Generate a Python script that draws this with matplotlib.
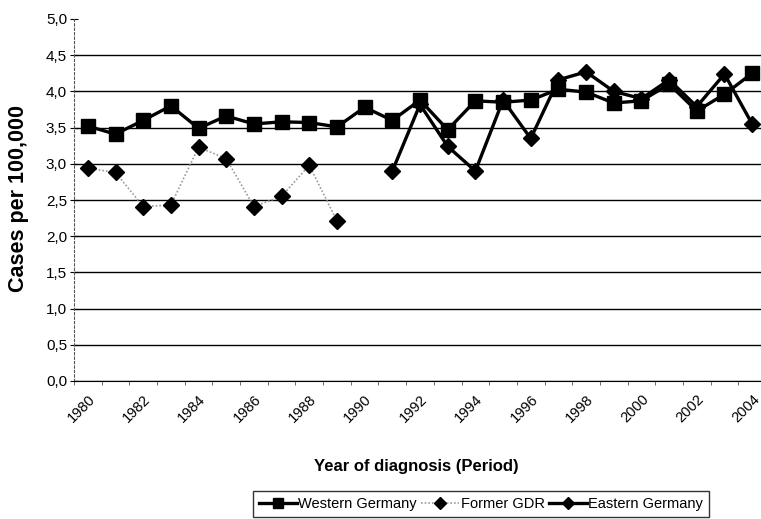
import numpy as np
import matplotlib
matplotlib.use("Agg")
import matplotlib.pyplot as plt
import matplotlib.transforms as mtransforms
from matplotlib.ticker import FixedLocator, FuncFormatter

plt.rcParams['font.family'] = ['Liberation Sans', 'DejaVu Sans']

years = list(range(1980, 2005))
western = [3.52, 3.41, 3.60, 3.80, 3.49, 3.66, 3.55, 3.58, 3.57, 3.51,
           3.78, 3.60, 3.88, 3.47, 3.87, 3.85, 3.88, 4.03, 3.99, 3.84,
           3.87, 4.10, 3.73, 3.96, 4.25]
former_gdr = [2.94, 2.88, 2.41, 2.43, 3.23, 3.07, 2.41, 2.55, 2.98, 2.21,
              None, None, None, None, None, None, None, None, None, None,
              None, None, None, None, None]
eastern = [None, None, None, None, None, None, None, None, None, None,
           None, 2.90, 3.82, 3.24, 2.90, 3.88, 3.35, 4.16, 4.27, 4.00,
           3.90, 4.16, 3.79, 4.24, 3.55]
year_labels = [str(y) for y in range(1980, 2005, 2)]


def arr(vals):
    return np.array([np.nan if v is None else v for v in vals], dtype=float)


W, H = 761, 519
fig = plt.figure(figsize=(W / 100, H / 100), dpi=100)
ax = fig.add_axes([74 / W, (H - 381) / H, (766 - 74) / W, 362 / H])

x = np.arange(len(years))
ax.plot(x, arr(western), color='black', lw=2.4, marker='s', ms=9.5,
        label='Western Germany', zorder=3)
ax.plot(x, arr(former_gdr), color='#9a9a9a', lw=1.2, ls=(0, (1, 1.2)),
        marker='D', ms=8.5, mfc='black', mec='black', label='Former GDR', zorder=3)
ax.plot(x, arr(eastern), color='black', lw=2.4, marker='D', ms=8.5,
        label='Eastern Germany', zorder=4)

ax.set_xlim(-0.5, len(years) - 0.5)
ax.set_ylim(0, 5.0)
ax.set_yticks(np.arange(0, 5.01, 0.5))
ax.yaxis.set_major_formatter(FuncFormatter(lambda v, p: f"{v:.1f}".replace('.', ',')))
ax.grid(axis='y', color='black', lw=1.0)
ax.yaxis.get_gridlines()[-1].set_visible(False)
ax.set_axisbelow(True)

label_pos = [years.index(int(s)) for s in year_labels]
ax.xaxis.set_major_locator(FixedLocator(label_pos))
ax.set_xticklabels(year_labels, rotation=45, ha='right', va='top',
                   rotation_mode='anchor', fontsize=10.5)
shift = mtransforms.ScaledTranslation(-1 / 100, 0, fig.dpi_scale_trans)
for lab in ax.get_xticklabels():
    lab.set_transform(lab.get_transform() + shift)
ax.tick_params(axis='x', which='major', length=0, pad=8)
ax.xaxis.set_minor_locator(FixedLocator(np.arange(-0.5, len(years), 1)))
ax.tick_params(axis='x', which='minor', length=3, color='#555555')
ax.tick_params(axis='y', length=6, direction='inout', labelsize=11, pad=2)

for s in ['top', 'right']:
    ax.spines[s].set_visible(False)
ax.spines['bottom'].set_color('black')
ax.spines['left'].set_linestyle((0, (2, 2)))
ax.spines['left'].set_color('#555555')
ax.spines['left'].set_linewidth(0.8)

ax.set_xlabel('Year of diagnosis (Period)', fontsize=12, fontweight='bold')
ax.xaxis.set_label_coords((416 - 74) / (766 - 74), -(459 - 381) / 362)
fig.text(19 / W, 1 - 199 / H, 'Cases per 100,000', rotation=90, fontsize=15.5,
         fontweight='bold', ha='center', va='center')

handles, labels = ax.get_legend_handles_labels()
leg = fig.legend(handles, labels, loc='upper center', ncol=3,
                 bbox_to_anchor=(481 / W, 1 - 484 / H), frameon=True,
                 fancybox=False, edgecolor='black', fontsize=10.5,
                 handlelength=2.6, handletextpad=0.1, columnspacing=0.3,
                 markerscale=0.75, borderpad=0.4)
leg.get_frame().set_linewidth(1.0)

fig.savefig('out.png', dpi=100)
